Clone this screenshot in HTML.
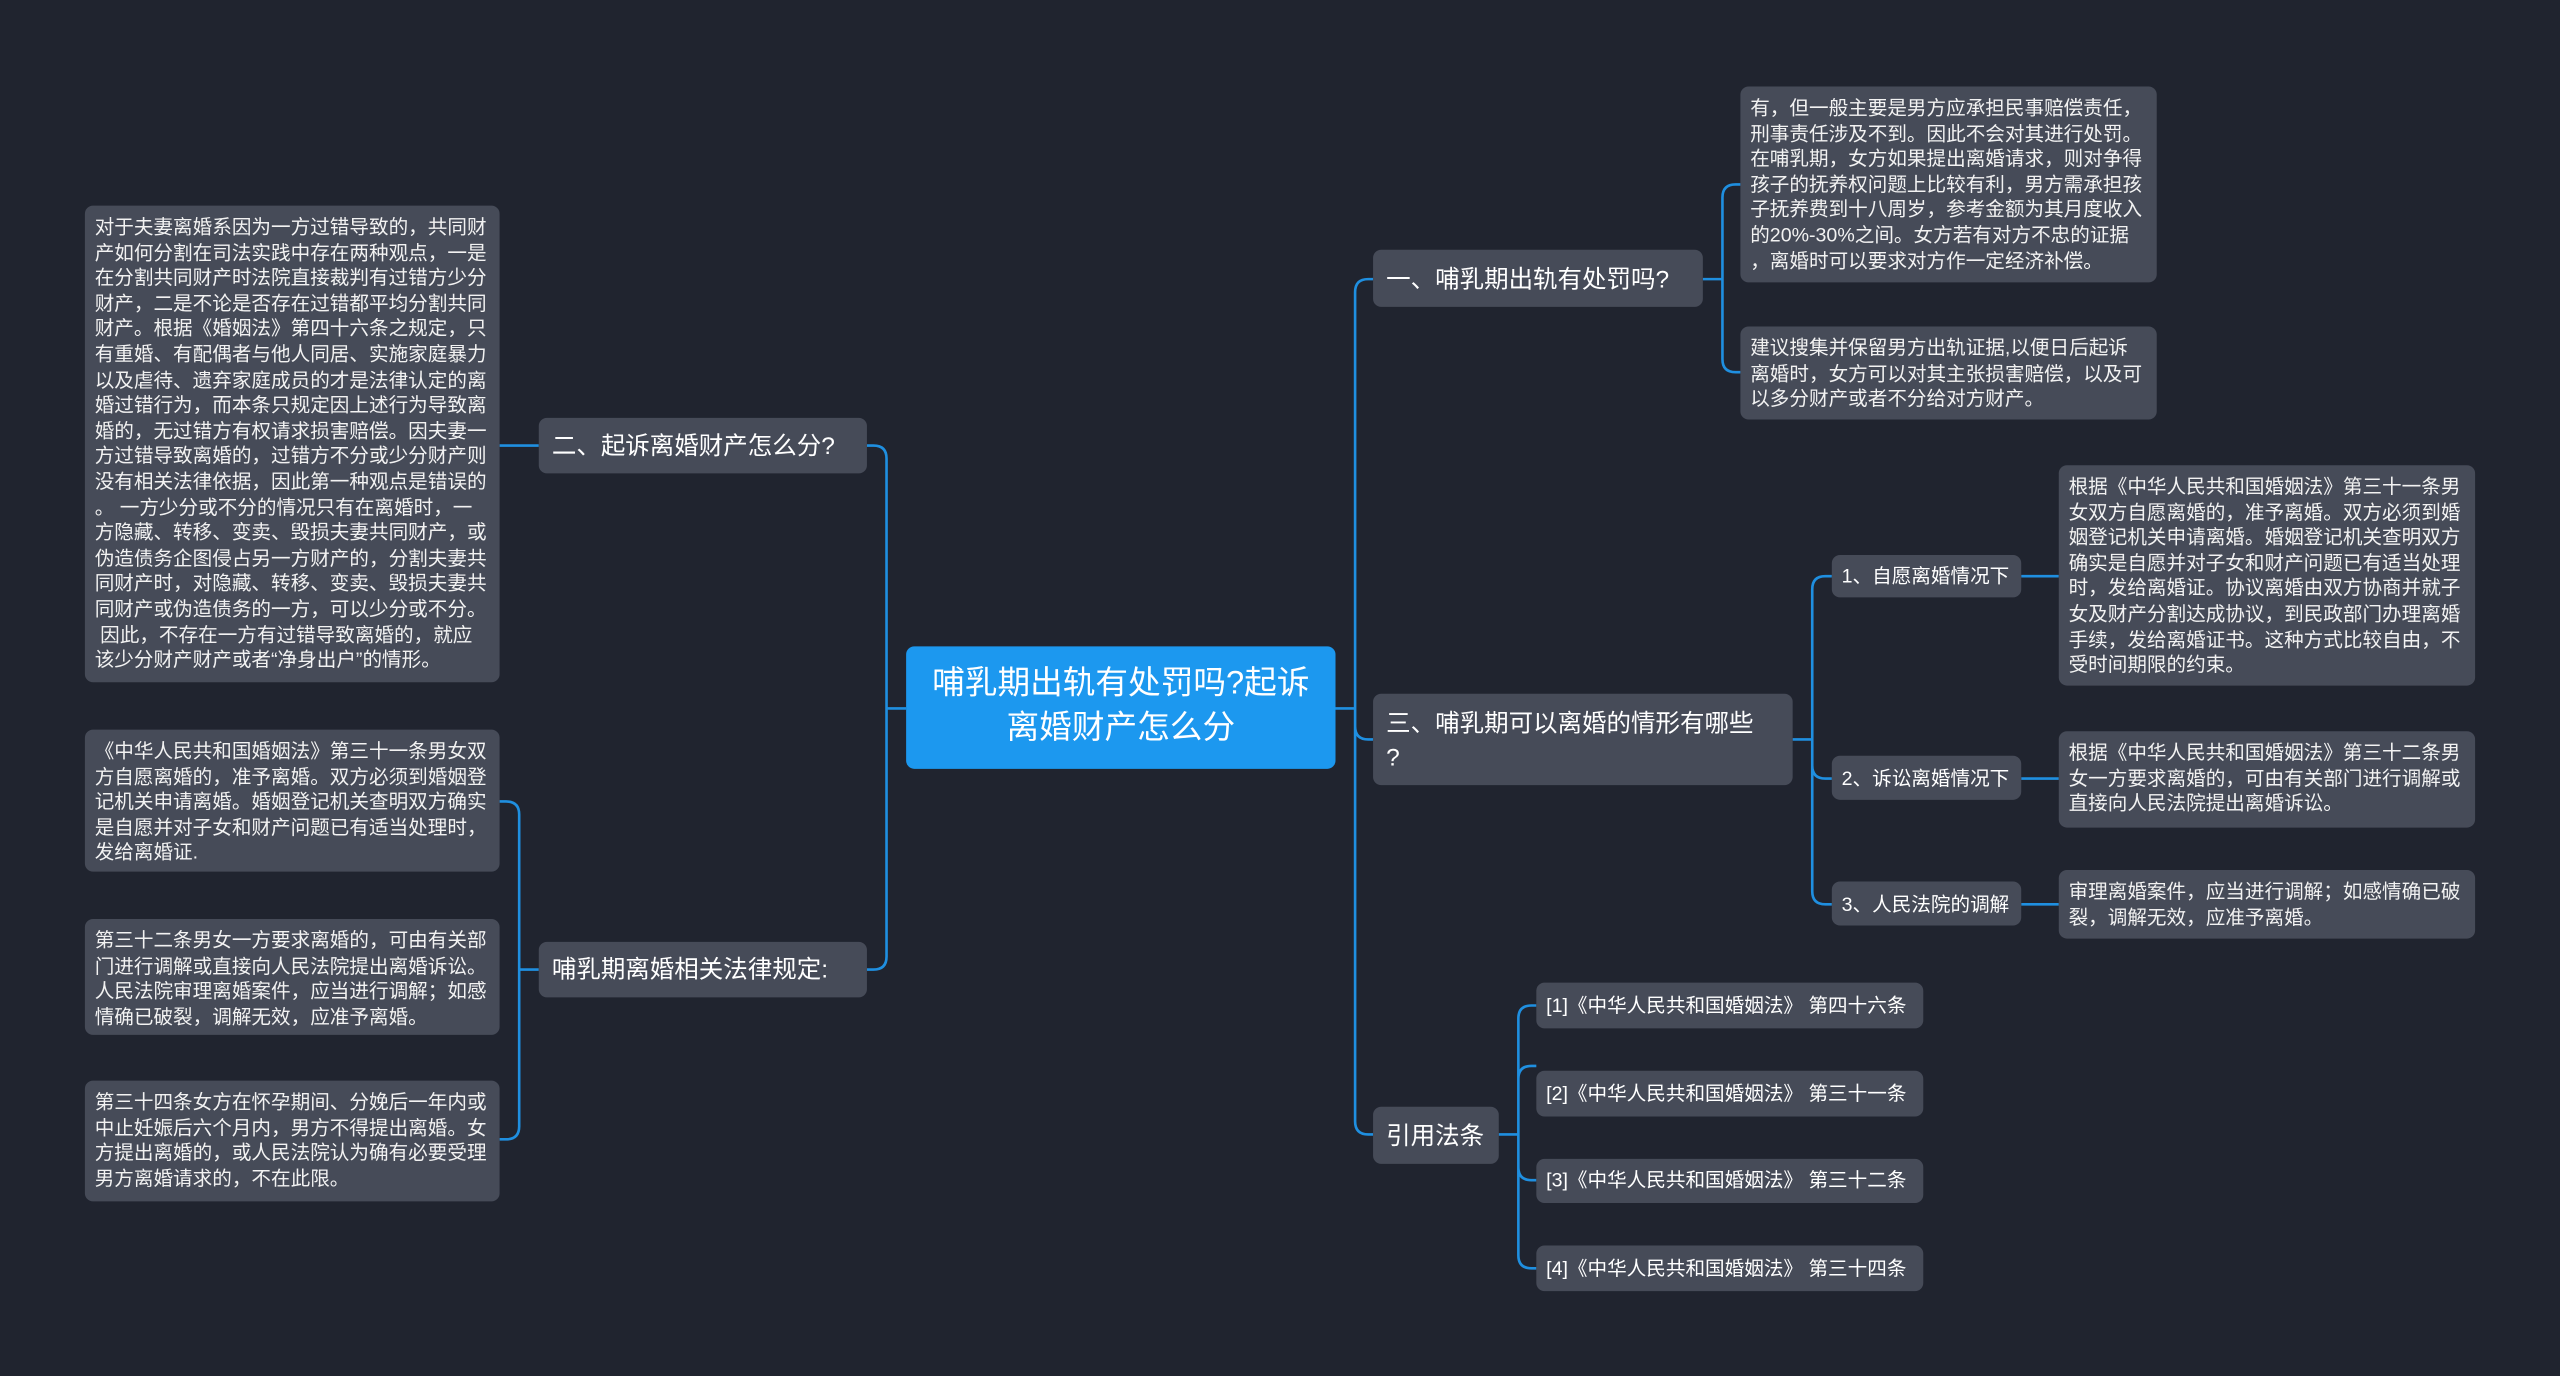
<!DOCTYPE html>
<html><head><meta charset="utf-8"><style>
html,body{margin:0;padding:0;width:2560px;height:1376px;overflow:hidden;background:#20242f}
#c{position:absolute;left:0;top:0;width:1568px;height:843px;transform:scale(1.63265,1.6323);transform-origin:0 0;font-family:"Liberation Sans","Noto Sans CJK SC",sans-serif;color:#fff}
.n{position:absolute;background:#464b58;border-radius:5px;box-sizing:border-box}
.t{font-size:12px;line-height:15.6px;padding:6px 6px;color:#f2f2f2;white-space:nowrap;overflow:hidden}
.l{font-size:15px;line-height:35px;padding:0 8px;white-space:nowrap}
.s{font-size:12px;line-height:26px;padding:0 6px;white-space:nowrap}
svg{position:absolute;left:0;top:0}
</style></head><body><div id="c">
<svg width="1568" height="843" fill="none" stroke="#1f8fe0" stroke-width="1.6">
<path d="M555 434H543M543 434V281q0-8-8-8H531M543 434V586q0 8-8 8H531"/>
<path d="M330 273H306"/>
<path d="M330 594H318M318 594V499q0-8-8-8H306M318 594V598M318 594V690q0 8-8 8H306"/>
<path d="M818 434H830M830 434V179q0-8 8-8h3M830 434V445q0 8 8 8h3M830 434V687q0 8 8 8h3"/>
<path d="M1043 171H1055M1055 171V121q0-8 8-8h3M1055 171V220q0 8 8 8h3"/>
<path d="M1098 453H1110M1110 453V361q0-8 8-8h4M1110 453V469q0 8 8 8h4M1110 453V546q0 8 8 8h4"/>
<path d="M1238 353H1261M1238 477H1261M1238 554H1261"/>
<path d="M918 695H930M930 695V624q0-8 8-8h3M930 695V661q0-8 8-8h3M930 695V715q0 8 8 8h3M930 695V769q0 8 8 8h3"/>
</svg>
<div class="n" style="left:555px;top:396px;width:263px;height:75px;background:#1c98ef;font-size:20px;line-height:27px;text-align:center;padding-top:10px">哺乳期出轨有处罚吗?起诉<br>离婚财产怎么分</div>

<div class="n l" style="left:330px;top:256px;width:201px;height:34px;line-height:36px">二、起诉离婚财产怎么分?</div>
<div class="n t" style="left:52px;top:126px;width:254px;height:292px">对于夫妻离婚系因为一方过错导致的，共同财<br>产如何分割在司法实践中存在两种观点，一是<br>在分割共同财产时法院直接裁判有过错方少分<br>财产，二是不论是否存在过错都平均分割共同<br>财产。根据《婚姻法》第四十六条之规定，只<br>有重婚、有配偶者与他人同居、实施家庭暴力<br>以及虐待、遗弃家庭成员的才是法律认定的离<br>婚过错行为，而本条只规定因上述行为导致离<br>婚的，无过错方有权请求损害赔偿。因夫妻一<br>方过错导致离婚的，过错方不分或少分财产则<br>没有相关法律依据，因此第一种观点是错误的<br>。 一方少分或不分的情况只有在离婚时，一<br>方隐藏、转移、变卖、毁损夫妻共同财产，或<br>伪造债务企图侵占另一方财产的，分割夫妻共<br>同财产时，对隐藏、转移、变卖、毁损夫妻共<br>同财产或伪造债务的一方，可以少分或不分。<br>&nbsp;因此，不存在一方有过错导致离婚的，就应<br>该少分财产财产或者“净身出户”的情形。</div>

<div class="n l" style="left:330px;top:577px;width:201px;height:34px;line-height:36px">哺乳期离婚相关法律规定:</div>
<div class="n t" style="left:52px;top:447px;width:254px;height:87px">《中华人民共和国婚姻法》第三十一条男女双<br>方自愿离婚的，准予离婚。双方必须到婚姻登<br>记机关申请离婚。婚姻登记机关查明双方确实<br>是自愿并对子女和财产问题已有适当处理时，<br>发给离婚证.</div>
<div class="n t" style="left:52px;top:563px;width:254px;height:71px">第三十二条男女一方要求离婚的，可由有关部<br>门进行调解或直接向人民法院提出离婚诉讼。<br>人民法院审理离婚案件，应当进行调解；如感<br>情确已破裂，调解无效，应准予离婚。</div>
<div class="n t" style="left:52px;top:662px;width:254px;height:74px">第三十四条女方在怀孕期间、分娩后一年内或<br>中止妊娠后六个月内，男方不得提出离婚。女<br>方提出离婚的，或人民法院认为确有必要受理<br>男方离婚请求的，不在此限。</div>

<div class="n l" style="left:841px;top:153px;width:202px;height:35px;line-height:37px">一、哺乳期出轨有处罚吗?</div>
<div class="n t" style="left:1066px;top:53px;width:255px;height:120px">有，但一般主要是男方应承担民事赔偿责任，<br>刑事责任涉及不到。因此不会对其进行处罚。<br>在哺乳期，女方如果提出离婚请求，则对争得<br>孩子的抚养权问题上比较有利，男方需承担孩<br>子抚养费到十八周岁，参考金额为其月度收入<br>的20%-30%之间。女方若有对方不忠的证据<br>，离婚时可以要求对方作一定经济补偿。</div>
<div class="n t" style="left:1066px;top:200px;width:255px;height:57px">建议搜集并保留男方出轨证据,以便日后起诉<br>离婚时，女方可以对其主张损害赔偿，以及可<br>以多分财产或者不分给对方财产。</div>

<div class="n" style="left:841px;top:425px;width:257px;height:56px;font-size:15px;line-height:21px;padding:8px 8px">三、哺乳期可以离婚的情形有哪些<br>?</div>
<div class="n s" style="left:1122px;top:340px;width:116px;height:26px">1、自愿离婚情况下</div>
<div class="n s" style="left:1122px;top:463px;width:116px;height:27px;line-height:28px">2、诉讼离婚情况下</div>
<div class="n s" style="left:1122px;top:540px;width:116px;height:27px;line-height:28px">3、人民法院的调解</div>
<div class="n t" style="left:1261px;top:285px;width:255px;height:135px">根据《中华人民共和国婚姻法》第三十一条男<br>女双方自愿离婚的，准予离婚。双方必须到婚<br>姻登记机关申请离婚。婚姻登记机关查明双方<br>确实是自愿并对子女和财产问题已有适当处理<br>时，发给离婚证。协议离婚由双方协商并就子<br>女及财产分割达成协议，到民政部门办理离婚<br>手续，发给离婚证书。这种方式比较自由，不<br>受时间期限的约束。</div>
<div class="n t" style="left:1261px;top:448px;width:255px;height:59px">根据《中华人民共和国婚姻法》第三十二条男<br>女一方要求离婚的，可由有关部门进行调解或<br>直接向人民法院提出离婚诉讼。</div>
<div class="n t" style="left:1261px;top:533px;width:255px;height:42px">审理离婚案件，应当进行调解；如感情确已破<br>裂，调解无效，应准予离婚。</div>

<div class="n l" style="left:841px;top:678px;width:77px;height:35px;line-height:37px">引用法条</div>
<div class="n s" style="left:941px;top:602px;width:237px;height:28px;line-height:28px">[1]《中华人民共和国婚姻法》 第四十六条</div>
<div class="n s" style="left:941px;top:656px;width:237px;height:28px;line-height:28px">[2]《中华人民共和国婚姻法》 第三十一条</div>
<div class="n s" style="left:941px;top:710px;width:237px;height:27px;line-height:27px">[3]《中华人民共和国婚姻法》 第三十二条</div>
<div class="n s" style="left:941px;top:763px;width:237px;height:28px;line-height:28px">[4]《中华人民共和国婚姻法》 第三十四条</div>
</div></body></html>
